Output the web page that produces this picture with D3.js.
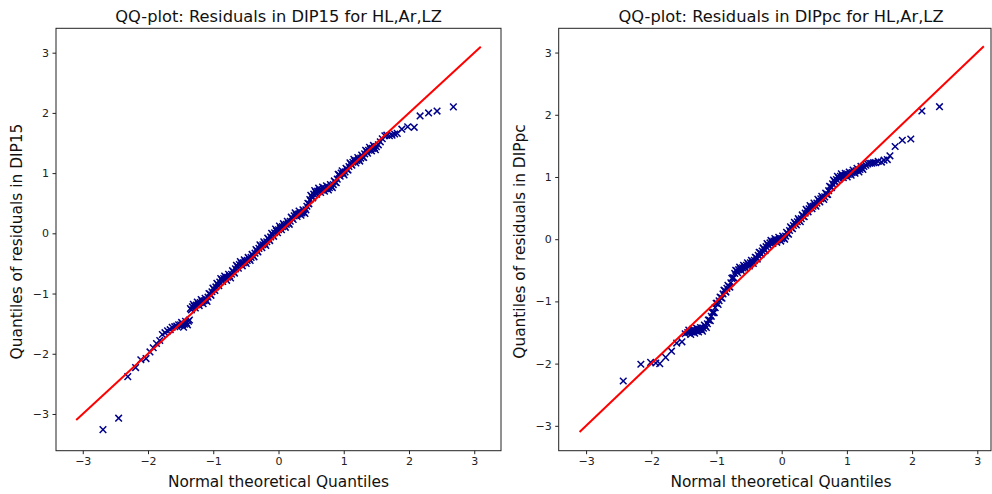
<!DOCTYPE html>
<html><head><meta charset="utf-8">
<script src="https://cdn.jsdelivr.net/npm/d3@7"></script>
<style>body{margin:0;background:#fff}svg{display:block}text{font-family:"DejaVu Sans",sans-serif}</style>
</head><body><svg id="c" width="992" height="494"></svg>
<script>
const xTicks = [-3,-2,-1,0,1,2,3];
const yTicks = [-3,-2,-1,0,1,2,3];
const titles = ["QQ-plot: Residuals in DIP15 for HL,Ar,LZ","QQ-plot: Residuals in DIPpc for HL,Ar,LZ"];
const xLabel = "Normal theoretical Quantiles";
const yLabels = ["Quantiles of residuals in DIP15","Quantiles of residuals in DIPpc"];
const lineEnds = [-3.1, 3.1];

const leftX = [-2.69,-2.45,-2.31,-2.19,-2.11,-2.03,-1.97,-1.92,-1.87,-1.82,-1.78,-1.74,-1.70,-1.66,-1.63,-1.59,-1.56,-1.53,
-1.50,-1.47,-1.44,-1.41,-1.38,-1.35,-1.32,-1.29,-1.26,-1.23,-1.20,-1.17,-1.14,-1.11,-1.08,-1.05,-1.02,-0.99,-0.96,-0.93,
-0.90,-0.87,-0.84,-0.81,-0.78,-0.75,-0.72,-0.69,-0.66,-0.63,-0.60,-0.57,-0.54,-0.51,-0.48,-0.45,-0.42,-0.39,-0.36,-0.33,
-0.30,-0.27,-0.24,-0.21,-0.18,-0.15,-0.12,-0.09,-0.06,-0.03,0.00,0.03,0.06,0.09,0.12,0.15,0.18,0.21,0.24,0.27,0.30,0.33,
0.36,0.39,0.42,0.45,0.48,0.51,0.54,0.57,0.60,0.63,0.66,0.69,0.72,0.75,0.78,0.81,0.84,0.87,0.90,0.93,0.96,0.99,1.02,1.05,
1.08,1.11,1.14,1.17,1.20,1.23,1.26,1.29,1.32,1.35,1.38,1.41,1.44,1.47,1.50,
1.53,1.56,1.59,1.63,1.66,1.70,1.74,1.78,1.82,1.89,1.98,2.08,2.17,2.30,2.43,2.68];
const leftY = [-3.26,-3.07,-2.38,-2.23,-2.10,-2.08,-1.97,-1.90,-1.83,-1.78,-1.68,-1.65,-1.62,-1.60,-1.56,-1.55,-1.54,-1.52,
-1.52,-1.52,-1.51,-1.49,-1.46,-1.25,-1.22,-1.21,-1.19,-1.17,-1.15,-1.13,-1.12,-1.11,-1.06,-1.01,-0.97,-0.93,-0.89,-0.85,
-0.81,-0.77,-0.75,-0.74,-0.73,-0.71,-0.68,-0.64,-0.59,-0.55,-0.52,-0.50,-0.49,-0.47,-0.45,-0.42,-0.40,-0.37,-0.33,-0.29,
-0.25,-0.21,-0.19,-0.17,-0.14,-0.10,-0.06,-0.02,0.01,0.04,0.06,0.09,0.11,0.13,0.15,0.17,0.20,0.25,0.29,0.31,0.32,0.33,
0.34,0.35,0.39,0.50,0.56,0.61,0.65,0.68,0.70,0.71,0.72,0.73,0.74,0.75,0.76,0.78,0.81,0.85,0.90,0.97,1.00,1.00,1.02,1.06,
1.11,1.15,1.18,1.20,1.21,1.23,1.25,1.27,1.32,1.36,1.38,1.40,1.41,1.42,1.44,
1.47,1.52,1.57,1.62,1.63,1.62,1.63,1.65,1.66,1.73,1.77,1.76,1.95,2.00,2.03,2.10];
// extra points filling the dense central band (left panel)
const leftBandX = [-1.485,-1.455,-1.425,-1.395,-1.365,-1.335,-1.305,-1.275,-1.245,-1.215,-1.185,-1.155,-1.125,-1.095,-1.065,
-1.035,-1.005,-0.975,-0.945,-0.915,-0.885,-0.855,-0.825,-0.795,-0.765,-0.735,-0.705,-0.675,-0.645,-0.615,-0.585,-0.555,
-0.525,-0.495,-0.465,-0.435,-0.405,-0.375,-0.345,-0.315,-0.285,-0.255,-0.225,-0.195,-0.165,-0.135,-0.105,-0.075,-0.045,
-0.015,0.015,0.045,0.075,0.105,0.135,0.165,0.195,0.225,0.255,0.285,0.315,0.345,0.375,0.405,0.435,0.465,0.495,0.525,0.555,
0.585,0.615,0.645,0.675,0.705,0.735,0.765,0.795,0.825,0.855,0.885,0.915,0.945,0.975,1.005,1.035,1.065,1.095,1.125,1.155,
1.185,1.215,1.245,1.275,1.305,1.335,1.365,1.395,1.425,1.455,1.485];
const leftBandY = [-1.48,-1.56,-1.46,-1.52,-1.44,-1.27,-1.18,-1.24,-1.14,-1.20,-1.10,-1.17,-1.08,-1.13,-1.00,
-1.03,-0.91,-0.95,-0.83,-0.87,-0.75,-0.80,-0.71,-0.78,-0.68,-0.74,-0.62,-0.66,-0.53,-0.58,-0.47,-0.54,
-0.44,-0.50,-0.40,-0.45,-0.35,-0.39,-0.27,-0.31,-0.19,-0.24,-0.14,-0.20,-0.08,-0.12,0.00,-0.05,0.07,
0.01,0.12,0.06,0.16,0.10,0.20,0.15,0.27,0.23,0.34,0.28,0.37,0.30,0.39,0.33,0.45,0.49,0.63,0.59,0.71,
0.65,0.75,0.68,0.77,0.70,0.79,0.72,0.81,0.76,0.87,0.84,0.98,0.95,1.04,0.97,1.08,1.05,1.17,1.13,1.23,
1.17,1.26,1.20,1.30,1.26,1.38,1.33,1.43,1.37,1.46,1.39];

const rightX = [-2.43,-2.16,-2.01,-1.93,-1.87,-1.78,-1.69,-1.61,-1.53,-1.48,
-1.44,-1.41,-1.38,-1.35,-1.32,-1.29,-1.26,-1.23,-1.20,-1.17,-1.14,-1.11,-1.08,-1.05,-1.02,-0.99,-0.96,-0.93,-0.90,-0.87,
-0.84,-0.81,-0.78,-0.75,-0.72,-0.69,-0.66,-0.63,-0.60,-0.57,-0.54,-0.51,-0.48,-0.45,-0.42,-0.39,-0.36,-0.33,-0.30,-0.27,
-0.24,-0.21,-0.18,-0.15,-0.12,-0.09,-0.06,-0.03,0.00,0.03,0.06,0.09,0.12,0.15,0.18,0.21,0.24,0.27,0.30,0.33,0.36,0.39,
0.42,0.45,0.48,0.51,0.54,0.57,0.60,0.63,0.66,0.69,0.72,0.75,0.78,0.81,0.84,0.87,0.90,0.93,0.96,0.99,1.02,1.05,1.08,1.11,
1.14,1.17,1.20,1.23,1.26,1.29,1.32,1.35,1.38,1.41,1.44,
1.48,1.53,1.57,1.62,1.66,1.74,1.85,1.98,2.15,2.42];
const rightY = [-2.28,-2.01,-1.98,-1.99,-2.00,-1.90,-1.80,-1.67,-1.65,-1.52,
-1.50,-1.49,-1.49,-1.48,-1.47,-1.46,-1.45,-1.45,-1.43,-1.40,-1.36,-1.30,-1.24,-1.18,-1.10,-1.03,-0.99,-0.94,-0.88,-0.83,
-0.79,-0.76,-0.70,-0.62,-0.55,-0.51,-0.49,-0.48,-0.46,-0.44,-0.42,-0.40,-0.38,-0.36,-0.34,-0.30,-0.26,-0.22,-0.19,-0.16,
-0.12,-0.09,-0.06,-0.04,-0.03,-0.02,-0.01,0.00,0.01,0.02,0.05,0.09,0.14,0.18,0.22,0.25,0.28,0.30,0.33,0.37,0.42,0.46,
0.49,0.51,0.53,0.55,0.58,0.62,0.65,0.66,0.68,0.72,0.78,0.84,0.89,0.93,0.96,0.99,1.01,1.02,1.02,1.03,1.04,1.05,1.07,1.08,
1.10,1.11,1.12,1.14,1.17,1.19,1.21,1.22,1.22,1.23,1.23,
1.25,1.24,1.27,1.28,1.34,1.49,1.59,1.61,2.06,2.13];
// extra points filling the dense central band (right panel)
const rightBandX = [-1.425,-1.395,-1.365,-1.335,-1.305,-1.275,-1.245,-1.215,-1.185,-1.155,-1.125,-1.095,-1.065,-1.035,
-1.005,-0.975,-0.945,-0.915,-0.885,-0.855,-0.825,-0.795,-0.765,-0.735,-0.705,-0.675,-0.645,-0.615,-0.585,-0.555,-0.525,
-0.495,-0.465,-0.435,-0.405,-0.375,-0.345,-0.315,-0.285,-0.255,-0.225,-0.195,-0.165,-0.135,-0.105,-0.075,-0.045,-0.015,
0.015,0.045,0.075,0.105,0.135,0.165,0.195,0.225,0.255,0.285,0.315,0.345,0.375,0.405,0.435,0.465,0.495,0.525,0.555,0.585,
0.615,0.645,0.675,0.705,0.735,0.765,0.795,0.825,0.855,0.885,0.915,0.945,0.975,1.005,1.035,1.065,1.095,1.125,1.155,1.185,
1.215,1.245];
const rightBandY = [-1.46,-1.53,-1.45,-1.51,-1.43,-1.49,-1.42,-1.48,-1.38,-1.42,-1.30,-1.31,-1.18,-1.18,
-1.03,-1.05,-0.93,-0.95,-0.82,-0.85,-0.74,-0.77,-0.63,-0.62,-0.50,-0.54,-0.45,-0.51,-0.42,-0.47,-0.38,
-0.43,-0.34,-0.39,-0.29,-0.32,-0.21,-0.24,-0.14,-0.18,-0.07,-0.11,-0.02,-0.07,0.01,-0.05,0.03,-0.03,
0.05,0.00,0.11,0.08,0.20,0.17,0.27,0.23,0.33,0.28,0.39,0.36,0.48,0.44,0.54,0.49,0.58,0.53,0.64,0.60,
0.69,0.64,0.74,0.72,0.85,0.83,0.95,0.91,1.01,0.97,1.05,0.99,1.06,1.00,1.08,1.03,1.11,1.06,1.14,1.08,
1.17,1.12];

const panels = [
  {x0:56, x1:501, y0:28.3, y1:450.7, xd:[-3.41,3.41], yd:[-3.61,3.405], xs:leftX.concat(leftBandX), ys:leftY.concat(leftBandY)},
  {x0:558.7, x1:991, y0:28.3, y1:450.7, xd:[-3.42,3.21], yd:[-3.40,3.39], xs:rightX.concat(rightBandX), ys:rightY.concat(rightBandY)}
];

const svg = d3.select("#c");
const fmt = d => (d<0 ? "\u2212"+Math.abs(d) : ""+d);
const cross = "M-3.3,-3.3L3.3,3.3M-3.3,3.3L3.3,-3.3";

panels.forEach((p,i)=>{
  const x = d3.scaleLinear().domain(p.xd).range([p.x0,p.x1]);
  const y = d3.scaleLinear().domain(p.yd).range([p.y1,p.y0]);
  const g = svg.append("g");
  g.append("g").selectAll("path").data(p.xs.map((v,k)=>[v,p.ys[k]])).join("path")
    .attr("d",cross).attr("transform",d=>`translate(${x(d[0])},${y(d[1])})`)
    .attr("stroke","#00008b").attr("stroke-width",1.5).attr("fill","none");
  g.append("line").attr("x1",x(lineEnds[0])).attr("y1",y(lineEnds[0]))
    .attr("x2",x(lineEnds[1])).attr("y2",y(lineEnds[1]))
    .attr("stroke","#ff0000").attr("stroke-width",2);
  const xa = g.append("g").attr("transform",`translate(0,${p.y1})`)
    .call(d3.axisBottom(x).tickValues(xTicks).tickFormat(fmt).tickSize(3.5).tickPadding(3.5));
  const ya = g.append("g").attr("transform",`translate(${p.x0},0)`)
    .call(d3.axisLeft(y).tickValues(yTicks).tickFormat(fmt).tickSize(3.5).tickPadding(3.5));
  [xa,ya].forEach(a=>{
    a.select(".domain").remove();
    a.selectAll("text").attr("font-size",11).attr("fill","#222").style("font-family","DejaVu Sans");
    a.selectAll("line").attr("stroke","#222");
  });
  g.append("rect").attr("x",p.x0).attr("y",p.y0).attr("width",p.x1-p.x0).attr("height",p.y1-p.y0)
    .attr("fill","none").attr("stroke","#222").attr("stroke-width",1);
  const cx = i===0 ? 278.5 : 781;
  g.append("text").attr("x",cx).attr("y",22).attr("text-anchor","middle")
    .attr("font-size",16.3).attr("fill","#111").text(titles[i]);
  g.append("text").attr("x",cx).attr("y",487).attr("text-anchor","middle")
    .attr("font-size",15.4).attr("fill","#111").text(xLabel);
  const ylx = i===0 ? 22 : 525;
  g.append("text").attr("transform",`translate(${ylx},${(p.y0+p.y1)/2 + 2}) rotate(-90)`)
    .attr("text-anchor","middle").attr("font-size",15.4).attr("fill","#111").text(yLabels[i]);
});
</script></body></html>
